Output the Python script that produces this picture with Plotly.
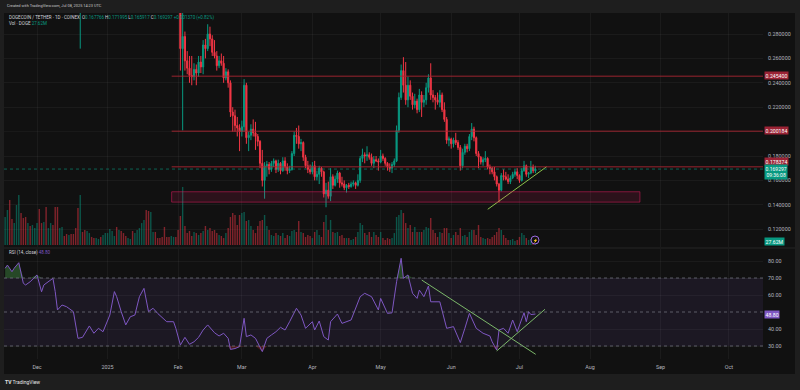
import plotly.graph_objects as go
import pandas as pd

# ---------------- data ----------------
dates = pd.date_range("2024-11-17", "2025-07-08", freq="D")

opens = [
    # Nov 17-30
    0.362, 0.370, 0.382, 0.378, 0.373, 0.389, 0.399, 0.437, 0.419, 0.397, 0.383, 0.412, 0.407, 0.427,
    # Dec
    0.432, 0.436, 0.420, 0.413, 0.438, 0.428, 0.450, 0.460, 0.456, 0.405, 0.391, 0.414, 0.419, 0.408, 0.400, 0.406,
    0.396, 0.385, 0.344, 0.318, 0.324, 0.320, 0.318, 0.330, 0.337, 0.330, 0.314, 0.315, 0.321, 0.310, 0.315,
    # Jan
    0.316, 0.327, 0.339, 0.382, 0.385, 0.378, 0.380, 0.356, 0.336, 0.329, 0.349, 0.351, 0.344, 0.345, 0.360, 0.375,
    0.385, 0.390, 0.374, 0.358, 0.378, 0.379, 0.363, 0.360, 0.356, 0.350, 0.338, 0.331, 0.318, 0.330, 0.335,
    # Feb
    0.328, 0.308, 0.268, 0.278, 0.258, 0.252, 0.246, 0.245, 0.251, 0.248, 0.257, 0.253, 0.271, 0.268, 0.280, 0.276,
    0.265, 0.262, 0.254, 0.258, 0.256, 0.244, 0.249, 0.240, 0.216, 0.213, 0.205, 0.203,
    # Mar
    0.200, 0.204, 0.238, 0.195, 0.197, 0.202, 0.199, 0.196, 0.192, 0.174, 0.160, 0.172, 0.173, 0.169, 0.174, 0.176,
    0.169, 0.174, 0.168, 0.176, 0.171, 0.168, 0.169, 0.182, 0.197, 0.196, 0.190, 0.191, 0.179, 0.172, 0.169,
    # Apr
    0.167, 0.172, 0.163, 0.165, 0.170, 0.167, 0.149, 0.152, 0.147, 0.163, 0.156, 0.161, 0.166, 0.158, 0.157, 0.154,
    0.156, 0.155, 0.157, 0.158, 0.156, 0.160, 0.178, 0.181, 0.180, 0.181, 0.179, 0.174, 0.177, 0.176,
    # May
    0.175, 0.180, 0.178, 0.174, 0.171, 0.170, 0.173, 0.176, 0.201, 0.228, 0.250, 0.238, 0.226, 0.238, 0.229, 0.222,
    0.225, 0.218, 0.230, 0.224, 0.226, 0.236, 0.244, 0.230, 0.228, 0.226, 0.224, 0.230, 0.218, 0.210, 0.193,
    # Jun
    0.194, 0.190, 0.193, 0.191, 0.187, 0.172, 0.183, 0.188, 0.186, 0.196, 0.202, 0.195, 0.182, 0.179, 0.175, 0.177,
    0.178, 0.171, 0.170, 0.167, 0.163, 0.157, 0.152, 0.164, 0.163, 0.161, 0.159, 0.162, 0.165, 0.167,
    # Jul 1-8
    0.164, 0.160, 0.168, 0.172, 0.165, 0.166, 0.171, 0.167766,
]

highs = [
    0.385, 0.392, 0.395, 0.385, 0.398, 0.405, 0.445, 0.440, 0.430, 0.405, 0.418, 0.418, 0.432, 0.440,
    0.445, 0.442, 0.425, 0.445, 0.450, 0.455, 0.475, 0.484, 0.458, 0.420, 0.420, 0.430, 0.425, 0.412, 0.410, 0.420,
    0.402, 0.390, 0.352, 0.330, 0.340, 0.325, 0.335, 0.342, 0.340, 0.333, 0.325, 0.326, 0.323, 0.322, 0.325,
    0.330, 0.345, 0.388, 0.392, 0.388, 0.398, 0.387, 0.360, 0.342, 0.355, 0.355, 0.354, 0.350, 0.365, 0.382, 0.392,
    0.405, 0.398, 0.385, 0.435, 0.395, 0.385, 0.375, 0.370, 0.362, 0.355, 0.342, 0.340, 0.336, 0.342, 0.345,
    0.332, 0.312, 0.300, 0.282, 0.266, 0.262, 0.262, 0.256, 0.255, 0.262, 0.262, 0.275, 0.276, 0.288, 0.286, 0.279,
    0.275, 0.266, 0.262, 0.264, 0.262, 0.252, 0.251, 0.242, 0.220, 0.218, 0.212, 0.206,
    0.209, 0.243, 0.240, 0.200, 0.206, 0.210, 0.208, 0.198, 0.193, 0.185, 0.175, 0.176, 0.175, 0.176, 0.178, 0.177,
    0.177, 0.175, 0.179, 0.179, 0.174, 0.172, 0.184, 0.200, 0.203, 0.205, 0.194, 0.192, 0.181, 0.176, 0.173,
    0.175, 0.176, 0.168, 0.172, 0.171, 0.168, 0.158, 0.159, 0.170, 0.165, 0.164, 0.168, 0.167, 0.163, 0.160, 0.157,
    0.158, 0.159, 0.160, 0.159, 0.165, 0.180, 0.186, 0.183, 0.188, 0.183, 0.182, 0.180, 0.180, 0.178,
    0.185, 0.182, 0.179, 0.175, 0.174, 0.175, 0.178, 0.205, 0.232, 0.255, 0.261, 0.257, 0.245, 0.242, 0.232, 0.231,
    0.227, 0.235, 0.233, 0.230, 0.240, 0.247, 0.256, 0.234, 0.230, 0.232, 0.234, 0.232, 0.224, 0.212, 0.196,
    0.195, 0.195, 0.199, 0.193, 0.189, 0.186, 0.190, 0.190, 0.198, 0.207, 0.204, 0.196, 0.184, 0.180, 0.179, 0.184,
    0.179, 0.173, 0.171, 0.171, 0.164, 0.158, 0.166, 0.169, 0.167, 0.165, 0.164, 0.167, 0.169, 0.170,
    0.165, 0.170, 0.176, 0.173, 0.167, 0.176, 0.173, 0.171995,
]

lows = [
    0.355, 0.360, 0.366, 0.355, 0.363, 0.375, 0.395, 0.405, 0.390, 0.370, 0.375, 0.398, 0.400, 0.420,
    0.425, 0.395, 0.385, 0.405, 0.410, 0.422, 0.445, 0.448, 0.380, 0.370, 0.385, 0.405, 0.400, 0.390, 0.392, 0.390,
    0.378, 0.335, 0.305, 0.268, 0.312, 0.306, 0.308, 0.322, 0.325, 0.310, 0.308, 0.312, 0.306, 0.302, 0.310,
    0.312, 0.325, 0.336, 0.375, 0.370, 0.372, 0.350, 0.325, 0.318, 0.325, 0.342, 0.338, 0.308, 0.340, 0.355, 0.365,
    0.380, 0.362, 0.335, 0.345, 0.365, 0.358, 0.348, 0.350, 0.345, 0.335, 0.305, 0.312, 0.310, 0.325, 0.322,
    0.302, 0.250, 0.201, 0.250, 0.247, 0.240, 0.238, 0.242, 0.238, 0.245, 0.248, 0.247, 0.260, 0.266, 0.270, 0.262,
    0.260, 0.250, 0.252, 0.254, 0.240, 0.242, 0.236, 0.212, 0.200, 0.200, 0.196, 0.184,
    0.196, 0.200, 0.190, 0.184, 0.193, 0.196, 0.185, 0.188, 0.170, 0.155, 0.145, 0.163, 0.165, 0.167, 0.171, 0.166,
    0.167, 0.165, 0.167, 0.168, 0.165, 0.166, 0.168, 0.180, 0.190, 0.186, 0.184, 0.176, 0.170, 0.166, 0.165,
    0.165, 0.160, 0.160, 0.157, 0.163, 0.146, 0.138, 0.145, 0.143, 0.153, 0.155, 0.158, 0.154, 0.155, 0.152, 0.150,
    0.153, 0.154, 0.155, 0.153, 0.155, 0.158, 0.175, 0.174, 0.176, 0.177, 0.172, 0.170, 0.175, 0.168,
    0.174, 0.176, 0.172, 0.168, 0.167, 0.166, 0.171, 0.175, 0.199, 0.226, 0.232, 0.222, 0.220, 0.226, 0.218, 0.219,
    0.215, 0.216, 0.212, 0.220, 0.222, 0.232, 0.226, 0.224, 0.218, 0.222, 0.220, 0.216, 0.208, 0.190, 0.188,
    0.186, 0.187, 0.189, 0.185, 0.168, 0.170, 0.181, 0.183, 0.184, 0.193, 0.192, 0.180, 0.170, 0.173, 0.172, 0.175,
    0.169, 0.165, 0.165, 0.160, 0.155, 0.142, 0.151, 0.160, 0.160, 0.157, 0.157, 0.161, 0.163, 0.161,
    0.158, 0.159, 0.167, 0.163, 0.162, 0.165, 0.166, 0.165917,
]

closes = [
    0.370, 0.382, 0.378, 0.373, 0.389, 0.399, 0.437, 0.419, 0.397, 0.383, 0.412, 0.407, 0.427, 0.432,
    0.436, 0.420, 0.413, 0.438, 0.428, 0.450, 0.460, 0.456, 0.405, 0.391, 0.414, 0.419, 0.408, 0.400, 0.406, 0.396,
    0.385, 0.344, 0.318, 0.324, 0.320, 0.318, 0.330, 0.337, 0.330, 0.314, 0.315, 0.321, 0.310, 0.315, 0.316,
    0.327, 0.339, 0.382, 0.385, 0.378, 0.380, 0.356, 0.336, 0.329, 0.349, 0.351, 0.344, 0.345, 0.360, 0.375, 0.385,
    0.390, 0.374, 0.358, 0.378, 0.379, 0.363, 0.360, 0.356, 0.350, 0.338, 0.331, 0.318, 0.330, 0.335, 0.328,
    0.308, 0.268, 0.278, 0.258, 0.252, 0.246, 0.245, 0.251, 0.248, 0.257, 0.253, 0.271, 0.268, 0.280, 0.276, 0.265,
    0.262, 0.254, 0.258, 0.256, 0.244, 0.249, 0.240, 0.216, 0.213, 0.205, 0.203, 0.200,
    0.204, 0.238, 0.195, 0.197, 0.202, 0.199, 0.196, 0.192, 0.174, 0.160, 0.172, 0.173, 0.169, 0.174, 0.176, 0.169,
    0.174, 0.168, 0.176, 0.171, 0.168, 0.169, 0.182, 0.197, 0.196, 0.190, 0.191, 0.179, 0.172, 0.169, 0.167,
    0.172, 0.163, 0.165, 0.170, 0.167, 0.149, 0.152, 0.147, 0.163, 0.156, 0.161, 0.166, 0.158, 0.157, 0.154, 0.156,
    0.155, 0.157, 0.158, 0.156, 0.160, 0.178, 0.181, 0.180, 0.181, 0.179, 0.174, 0.177, 0.176, 0.175,
    0.180, 0.178, 0.174, 0.171, 0.170, 0.173, 0.176, 0.201, 0.228, 0.250, 0.238, 0.226, 0.238, 0.229, 0.222, 0.225,
    0.218, 0.230, 0.224, 0.226, 0.236, 0.244, 0.230, 0.228, 0.226, 0.224, 0.230, 0.218, 0.210, 0.193, 0.194,
    0.190, 0.193, 0.191, 0.187, 0.172, 0.183, 0.188, 0.186, 0.196, 0.202, 0.195, 0.182, 0.179, 0.175, 0.177, 0.178,
    0.171, 0.170, 0.167, 0.163, 0.157, 0.152, 0.164, 0.163, 0.161, 0.159, 0.162, 0.165, 0.167, 0.164,
    0.160, 0.168, 0.172, 0.165, 0.166, 0.171, 0.167927, 0.169297,
]

# volume, millions of DOGE
volumes = [
    258, 322, 414, 239, 202, 368, 460, 294, 248, 258, 202, 175, 184, 156,
    202, 331, 202, 212, 350, 156, 202, 184, 350, 350, 156, 166, 83, 101, 92, 101,
    101, 156, 340, 460, 120, 138, 129, 110, 74, 64, 64, 55, 74, 92, 110,
    110, 147, 129, 83, 166, 138, 129, 110, 83, 64, 55, 129, 110, 138, 156, 202,
    230, 322, 313, 304, 120, 120, 64, 64, 74, 166, 74, 74, 83, 74, 74,
    138, 267, 534, 175, 110, 129, 83, 120, 110, 92, 110, 129, 175, 138, 156, 129,
    138, 110, 92, 83, 64, 110, 156, 258, 294, 276, 184, 276,
    294, 304, 221, 230, 175, 138, 110, 175, 221, 230, 276, 175, 138, 92, 83, 110,
    92, 83, 110, 64, 92, 83, 129, 138, 120, 221, 120, 110, 74, 92, 83,
    64, 120, 138, 92, 74, 212, 276, 138, 230, 120, 110, 120, 83, 92, 64, 64,
    64, 46, 55, 74, 120, 202, 184, 110, 92, 120, 74, 120, 92, 74,
    120, 64, 46, 64, 55, 64, 110, 258, 276, 322, 294, 202, 156, 184, 120, 166,
    120, 120, 120, 138, 166, 156, 248, 138, 110, 74, 120, 110, 156, 156, 110,
    64, 92, 120, 92, 156, 83, 92, 74, 120, 138, 138, 92, 184, 74, 64, 55,
    64, 55, 74, 92, 120, 156, 138, 92, 64, 46, 46, 55, 37, 46,
    74, 110, 92, 64, 46, 55, 37, 27.62,
]

rsi_dates = [
    "2024-11-17", "2024-11-18", "2024-11-20", "2024-11-21", "2024-11-23", "2024-11-25", "2024-11-26", "2024-11-28",
    "2024-12-01", "2024-12-03", "2024-12-04", "2024-12-08", "2024-12-09", "2024-12-10", "2024-12-12", "2024-12-14",
    "2024-12-17", "2024-12-19", "2024-12-21", "2024-12-24", "2024-12-26", "2024-12-28", "2024-12-30", "2024-12-31",
    "2025-01-02", "2025-01-04", "2025-01-05", "2025-01-07", "2025-01-09", "2025-01-11", "2025-01-13", "2025-01-15",
    "2025-01-17", "2025-01-19", "2025-01-21", "2025-01-23", "2025-01-25", "2025-01-27", "2025-01-30", "2025-01-31",
    "2025-02-02", "2025-02-04", "2025-02-06", "2025-02-08", "2025-02-10", "2025-02-12", "2025-02-14", "2025-02-17",
    "2025-02-19", "2025-02-21", "2025-02-23", "2025-02-24", "2025-02-26", "2025-02-28", "2025-03-02", "2025-03-03",
    "2025-03-05", "2025-03-07", "2025-03-10", "2025-03-12", "2025-03-14", "2025-03-16", "2025-03-18", "2025-03-20",
    "2025-03-22", "2025-03-25", "2025-03-27", "2025-03-29", "2025-04-01", "2025-04-02", "2025-04-04", "2025-04-06",
    "2025-04-08", "2025-04-09", "2025-04-12", "2025-04-14", "2025-04-18", "2025-04-22", "2025-04-24", "2025-04-27",
    "2025-04-30", "2025-05-01", "2025-05-04", "2025-05-06", "2025-05-08", "2025-05-09", "2025-05-10", "2025-05-11",
    "2025-05-13", "2025-05-15", "2025-05-17", "2025-05-18", "2025-05-20", "2025-05-22", "2025-05-23", "2025-05-27",
    "2025-05-30", "2025-06-02", "2025-06-05", "2025-06-07", "2025-06-09", "2025-06-12", "2025-06-15", "2025-06-18",
    "2025-06-19", "2025-06-21", "2025-06-22", "2025-06-24", "2025-06-26", "2025-06-28", "2025-06-30", "2025-07-03",
    "2025-07-04", "2025-07-05", "2025-07-06", "2025-07-08",
]
rsi_values = [
    75.7, 77.6, 73.7, 75.8, 79.0, 66.9, 65.9, 67.8, 71.8, 61.9,
    65.9, 69.8, 62.0, 51.2, 54.1, 53.1, 50.2, 34.5, 35.1, 41.8,
    37.5, 40.4, 38.4, 41.4, 48.2, 62.0, 59.0, 50.2, 42.4, 47.2,
    48.2, 59.0, 63.9, 50.2, 52.2, 49.2, 46.5, 44.3, 44.3, 40.4,
    30.6, 35.1, 31.0, 32.5, 35.1, 39.4, 42.4, 37.8, 35.9, 37.5,
    34.5, 28.0, 28.5, 29.6, 46.3, 35.5, 36.5, 34.5, 26.7, 34.5,
    36.5, 38.4, 41.0, 39.4, 44.3, 52.2, 48.2, 40.4, 44.3, 39.4,
    44.7, 35.5, 33.5, 44.3, 48.8, 43.3, 45.3, 59.0, 61.0, 59.0,
    51.2, 58.0, 49.2, 49.5, 67.8, 74.7, 81.6, 69.8, 71.8, 61.0,
    58.0, 62.9, 59.0, 65.3, 56.0, 56.0, 40.4, 41.4, 32.0, 40.4,
    49.2, 40.4, 37.5, 35.9, 32.5, 27.6, 39.4, 40.4, 37.5, 45.3,
    38.4, 49.6, 44.3, 50.2, 48.5, 48.8,
]

# drawings
level_prices = [0.2454, 0.200184, 0.1712]
level_labels = ["0.245400", "0.200184", "0.178374"]
level_start = "2025-01-29 04:00"
zone_low, zone_high = 0.1422, 0.1507
zone_end = "2025-08-22 22:00"
last_price = 0.169297
price_trend_x = ["2025-06-17 01:00", "2025-07-12 22:00"]
price_trend_y = [0.1363, 0.1712]
rsi_trend1_x = ["2025-05-19 01:00", "2025-07-08 03:00"]
rsi_trend1_y = [68.8, 25.1]
rsi_trend2_x = ["2025-06-21 00:00", "2025-07-12 05:00"]
rsi_trend2_y = [27.1, 51.6]

tick_dates = ["2024-12-01", "2025-01-01", "2025-02-01", "2025-03-01", "2025-04-01", "2025-05-01",
              "2025-06-01", "2025-07-01", "2025-08-01", "2025-09-01", "2025-10-01"]
tick_labels = ["Dec", "2025", "Feb", "Mar", "Apr", "May", "Jun", "Jul", "Aug", "Sep", "Oct"]
price_grid = [0.12, 0.14, 0.16, 0.18, 0.20, 0.22, 0.24, 0.26, 0.28]
price_ticks = [0.12, 0.14, 0.16, 0.18, 0.22, 0.24, 0.26, 0.28]   # 0.20 hidden under a label
rsi_ticks = [30, 40, 60, 70, 80]                                  # 50 hidden under a label

assert len(opens) == len(highs) == len(lows) == len(closes) == len(volumes) == len(dates)
assert len(rsi_dates) == len(rsi_values)

# ---------------- layout geometry ----------------
W, H = 800, 390
ML, MR, MT, MB = 4, 37, 13, 31
PW, PH = W - ML - MR, H - MT - MB


def px_x(x):
    return (x - ML) / PW


def px_y(y):
    return (H - MB - y) / PH


x_range = ["2024-11-16 12:00", "2025-10-16 00:00"]
price_range = [0.10541, 0.29721]
rsi_range = [22.35, 87.06]
vol_range = [-18.4, 2134.4]

UP, DOWN = "#089981", "#f23645"
TXT = "#b2b5be"
GRID = "rgba(255,255,255,0.045)"
FONT = "Roboto"

fig = go.Figure()

vol_colors = ["rgba(8,153,129,0.5)" if c >= o else "rgba(242,54,69,0.5)" for o, c in zip(opens, closes)]
fig.add_trace(go.Bar(x=dates, y=volumes, marker=dict(color=vol_colors, line=dict(width=0)),
                     width=86400000 * 0.62, xaxis="x", yaxis="y3", hoverinfo="skip"))

fig.add_trace(go.Candlestick(
    x=dates, open=opens, high=highs, low=lows, close=closes, xaxis="x", yaxis="y",
    increasing=dict(line=dict(color=UP, width=1), fillcolor=UP),
    decreasing=dict(line=dict(color=DOWN, width=1), fillcolor=DOWN),
    whiskerwidth=0, hoverinfo="skip"))

fig.add_trace(go.Scatter(x=price_trend_x, y=price_trend_y, mode="lines",
                         line=dict(color="#8bc34a", width=1), xaxis="x", yaxis="y"))

# RSI overbought / oversold fills
ob = [max(v, 70) for v in rsi_values]
os_ = [min(v, 30) for v in rsi_values]
fig.add_trace(go.Scatter(x=rsi_dates, y=[70] * len(rsi_dates), mode="lines", line=dict(width=0),
                         xaxis="x2", yaxis="y2", hoverinfo="skip"))
fig.add_trace(go.Scatter(x=rsi_dates, y=ob, mode="lines", line=dict(width=0), fill="tonexty",
                         fillcolor="rgba(76,175,80,0.35)", xaxis="x2", yaxis="y2", hoverinfo="skip"))
fig.add_trace(go.Scatter(x=rsi_dates, y=[30] * len(rsi_dates), mode="lines", line=dict(width=0),
                         xaxis="x2", yaxis="y2", hoverinfo="skip"))
fig.add_trace(go.Scatter(x=rsi_dates, y=os_, mode="lines", line=dict(width=0), fill="tonexty",
                         fillcolor="rgba(242,54,69,0.25)", xaxis="x2", yaxis="y2", hoverinfo="skip"))
fig.add_trace(go.Scatter(x=rsi_dates, y=rsi_values, mode="lines", line=dict(color="#7e57c2", width=1),
                         xaxis="x2", yaxis="y2"))
fig.add_trace(go.Scatter(x=rsi_trend1_x, y=rsi_trend1_y, mode="lines", line=dict(color="#7cb86a", width=1),
                         xaxis="x2", yaxis="y2"))
fig.add_trace(go.Scatter(x=rsi_trend2_x, y=rsi_trend2_y, mode="lines", line=dict(color="#7cb86a", width=1),
                         xaxis="x2", yaxis="y2"))

shapes = [
    dict(type="rect", xref="paper", yref="paper", x0=0, x1=px_x(795), y0=px_y(374), y1=1,
         fillcolor="#111111", line=dict(width=0), layer="below"),
    dict(type="line", xref="paper", yref="paper", x0=0, x1=px_x(795), y0=px_y(248), y1=px_y(248),
         line=dict(color="#262626", width=1), layer="below"),
    dict(type="rect", xref="paper", yref="y2", x0=0, x1=1, y0=30, y1=70,
         fillcolor="rgba(126,87,194,0.10)", line=dict(width=0), layer="below"),
]
for gv in price_grid:
    if gv not in price_ticks:
        shapes.append(dict(type="line", xref="paper", yref="y", x0=0, x1=1, y0=gv, y1=gv,
                           line=dict(color=GRID, width=1), layer="below"))
for lv in (70, 50, 30):
    shapes.append(dict(type="line", xref="paper", yref="y2", x0=0, x1=1, y0=lv, y1=lv,
                       line=dict(color="rgba(120,123,134,0.7)", width=1, dash="3px,3px")))
shapes.append(dict(type="line", xref="paper", yref="y", x0=0, x1=1, y0=last_price, y1=last_price,
                   line=dict(color="rgba(8,153,129,0.6)", width=1, dash="dot")))
for p in level_prices:
    shapes.append(dict(type="line", xref="x", yref="y", x0=level_start, x1=x_range[1], y0=p, y1=p,
                       line=dict(color="rgba(170,38,50,0.6)", width=1.5)))
shapes.append(dict(type="rect", xref="x", yref="y", x0=level_start, x1=zone_end, y0=zone_low, y1=zone_high,
                   fillcolor="rgba(233,30,99,0.13)", line=dict(color="rgba(233,30,99,0.5)", width=1)))
shapes.append(dict(type="circle", xref="paper", yref="paper", x0=px_x(531), x1=px_x(539),
                   y0=px_y(244), y1=px_y(236), fillcolor="#111111", line=dict(color="#9c6ade", width=1)))

ann = []


def label(text, x, y, size=4.5, color="#d1d4dc", xanchor="left", **kw):
    ann.append(dict(text=text, x=px_x(x), y=px_y(y), xref="paper", yref="paper", showarrow=False,
                    xanchor=xanchor, yanchor="middle", font=dict(family=FONT, size=size, color=color), **kw))


g = "#089981"
label("Created with TradingView.com, Jul 08, 2025 14:23 UTC", 5, 6, size=3.9, color="#c8c8c8")
label("DOGECOIN / TETHER · 1D · COINEX  "
      f"O<span style='color:{g}'>0.167766</span> H<span style='color:{g}'>0.171995</span> "
      f"L<span style='color:{g}'>0.165917</span> C<span style='color:{g}'>0.169297</span> "
      f"<span style='color:{g}'>+0.001370 (+0.82%)</span>", 7, 17.5, size=4.5)
label(f"Vol · DOGE <span style='color:{g}'>27.62M</span>", 7, 24, size=4.5)
label("RSI (14, close) <span style='color:#7e57c2'>48.80</span>", 7, 252, size=4.5)
label("<b>TV</b> TradingView", 3, 382, size=5, color="#e6e6e6")
label("⚡", 535, 240, size=4, color="#b388ff", xanchor="center")

box_y = [75.7, 130.7, 161.3]
for txt, yy in zip(level_labels, box_y):
    label(txt, 764, yy, size=5.2, color="#ffffff", bgcolor="#9b2335", borderpad=0.6)
label("0.169297<br>09:36:08", 764, 171.5, size=5.0, color="#ffffff", bgcolor=UP, borderpad=0.6)
label("27.62M", 764, 241.2, size=5.2, color="#ffffff", bgcolor=UP, borderpad=0.6)
label("48.80", 764, 314, size=5.2, color="#ffffff", bgcolor="#7e57c2", borderpad=0.6)

fig.update_layout(
    width=W, height=H, margin=dict(l=ML, r=MR, t=MT, b=MB),
    paper_bgcolor="#1e1e1e", plot_bgcolor="rgba(0,0,0,0)",
    showlegend=False, hovermode=False, bargap=0.2,
    font=dict(family=FONT, color=TXT),
    xaxis=dict(domain=[0, 1], anchor="y", range=x_range, type="date",
               rangeslider=dict(visible=False), showticklabels=False,
               tickvals=tick_dates, showgrid=True, gridcolor=GRID, zeroline=False, showline=False),
    xaxis2=dict(domain=[0, 1], anchor="y2", matches="x", range=x_range, type="date",
                tickvals=tick_dates, ticktext=tick_labels, showgrid=True, gridcolor=GRID,
                tickfont=dict(size=5.4, color=TXT, family=FONT), ticks="outside", ticklen=3,
                tickcolor="rgba(0,0,0,0)", zeroline=False, showline=False),
    yaxis=dict(domain=[px_y(247), 1], anchor="x", side="right", range=price_range,
               tickvals=price_ticks, tickformat=".6f", showgrid=True, gridcolor=GRID,
               tickfont=dict(size=5.4, color=TXT, family=FONT), ticks="outside", ticklen=3,
               tickcolor="rgba(0,0,0,0)", zeroline=False, showline=False),
    yaxis2=dict(domain=[0, px_y(249)], anchor="x2", side="right", range=rsi_range,
                tickvals=rsi_ticks, ticktext=[f"{v:.2f}" for v in rsi_ticks], showgrid=True,
                gridcolor=GRID, tickfont=dict(size=5.4, color=TXT, family=FONT), ticks="outside",
                ticklen=3, tickcolor="rgba(0,0,0,0)", zeroline=False, showline=False),
    yaxis3=dict(overlaying="y", anchor="x", range=vol_range, visible=False, showgrid=False),
    shapes=shapes, annotations=ann,
)

fig.write_html("out.html", config={"displayModeBar": False, "staticPlot": True},
               post_script="document.body.style.margin='0';document.body.style.padding='0';")
